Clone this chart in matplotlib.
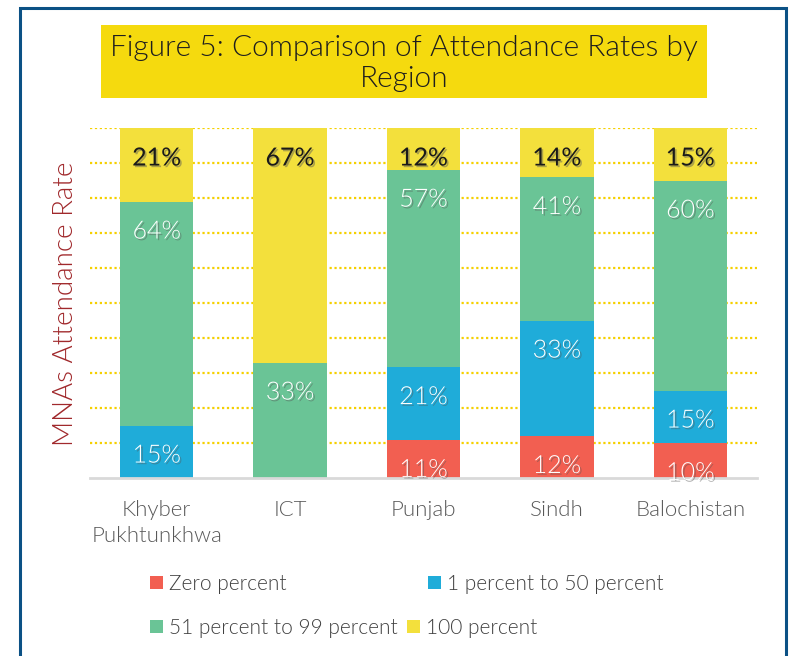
import matplotlib
matplotlib.use("Agg")
import matplotlib.pyplot as plt
import matplotlib.patches as mpatches
import matplotlib.patheffects as pe
import numpy as np

plt.rcParams['font.family'] = ['Lato', 'DejaVu Sans']

regions = ["Khyber\nPukhtunkhwa", "ICT", "Punjab", "Sindh", "Balochistan"]
series_names = ["Zero percent", "1 percent to 50 percent", "51 percent to 99 percent", "100 percent"]
zero_pct = [0, 0, 11, 12, 10]
one_to_50 = [15, 0, 21, 33, 15]
fifty1_to_99 = [64, 33, 57, 41, 60]
hundred = [21, 67, 12, 14, 15]

colors = ["#F25F51", "#1FACD9", "#6AC496", "#F3E03C"]
label_colors = ["white", "white", "white", "#1a1a1a"]
label_weights = [300, 300, 300, 400]

W, H = 789, 656
fig = plt.figure(figsize=(W / 100, H / 100), dpi=100)

# outer border
fig.add_artist(mpatches.Rectangle((20 / W, -0.05), (786 - 20) / W, 1.05 - 8 / H,
                                  transform=fig.transFigure, fill=False,
                                  edgecolor="#0B5185", linewidth=2.2, zorder=0))

# title box
fig.add_artist(mpatches.Rectangle((101 / W, 1 - 98 / H), 606 / W, 73 / H,
                                  transform=fig.transFigure, facecolor="#F5DA0E",
                                  edgecolor="none", zorder=0))
fig.text(404 / W, 1 - 63.5 / H, "Figure 5: Comparison of Attendance Rates by\nRegion",
         ha="center", va="center", fontsize=21.5, color="#1e1e1e",
         linespacing=1.2, fontweight=300, zorder=5)

ax = fig.add_axes([90 / W, 1 - 478 / H, (757 - 90) / W, (478 - 128) / H])
data = np.array([zero_pct, one_to_50, fifty1_to_99, hundred], dtype=float)
totals = data.sum(axis=0)
norm = data / totals * 100
x = np.arange(len(regions))
bottom = np.zeros(len(regions))

shadow = [pe.withSimplePatchShadow(offset=(1.2, -1.2), shadow_rgbFace="#555555", alpha=0.45)]

for i in range(4):
    ax.bar(x, norm[i], bottom=bottom, width=0.55, color=colors[i], zorder=3,
           edgecolor="none")
    tops = bottom + norm[i]
    for j in range(len(regions)):
        if data[i, j] > 0:
            ax.annotate(f"{int(data[i, j])}%", xy=(x[j], tops[j]), xytext=(0, -30),
                        textcoords="offset pixels", ha="center", va="center",
                        fontsize=18, fontweight=label_weights[i],
                        color=label_colors[i], zorder=5, path_effects=shadow)
    bottom = tops

ax.set_xlim(-0.5, 4.5)
ax.set_ylim(0, 100)
ax.set_yticks(np.arange(10, 101, 10))
ax.yaxis.grid(True, linestyle=(0, (1, 1.2)), color="#F5D000", linewidth=1.6, zorder=0)
ax.tick_params(axis="y", left=False, labelleft=False)
ax.set_xticks(x)
ax.set_xticklabels(regions, fontsize=16, color="#595959", linespacing=1.35,
                   fontweight=300)
ax.tick_params(axis="x", length=0, pad=16)
for s in ["top", "right", "left"]:
    ax.spines[s].set_visible(False)
ax.spines["bottom"].set_color("#D9D9D9")
ax.spines["bottom"].set_linewidth(2)
ax.spines["bottom"].set_zorder(4)

fig.text(66 / W, 1 - 304 / H, "MNAs Attendance Rate", rotation=90, ha="center",
         va="center", fontsize=20, color="#A0282B", fontweight=300)

# legend (Excel-style flowing entries)
legend_pos = [(150, 584), (428, 584), (150, 628), (407, 628)]
for i, (px, py) in enumerate(legend_pos):
    h = mpatches.Patch(facecolor=colors[i], edgecolor="none")
    fig.legend([h], [series_names[i]], loc="center left",
               bbox_to_anchor=(px / W, 1 - py / H), frameon=False,
               prop={"size": 15, "weight": 300},
               labelcolor="#404040", handlelength=0.6, handleheight=0.6,
               handletextpad=0.3, borderpad=0, borderaxespad=0)

fig.savefig("out.png", dpi=100)
